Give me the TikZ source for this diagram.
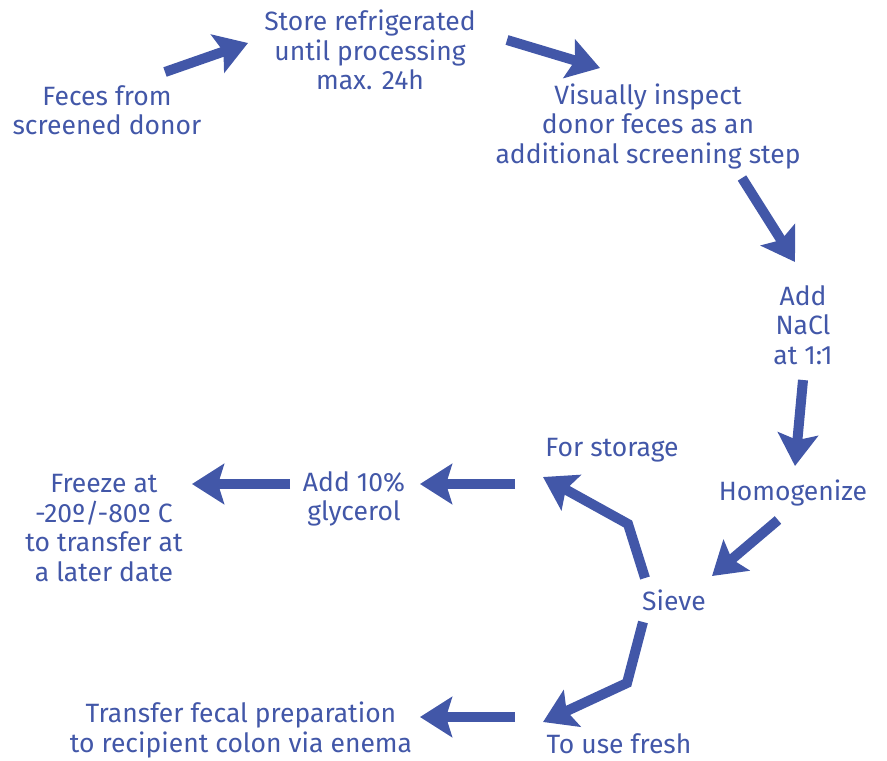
\documentclass[tikz,border=0pt]{standalone}
\usepackage{fontspec}
\setmainfont{Fira Sans}
\usetikzlibrary{arrows.meta}
\definecolor{flowblue}{RGB}{66,87,168}
\tikzset{
  step text/.style={inner sep=0pt, align=center, text=flowblue,
    font=\fontsize{26.5}{29.5}\selectfont},
  flow/.style={draw=flowblue, line width=10pt,
    -{Stealth[length=32pt,width=40pt,inset=6pt]}},
}
\begin{document}
\begin{tikzpicture}[x=1pt,y=-1pt]
      \useasboundingbox (0,0) rectangle (887,761);
      \draw
        (107,110) node[step text] (feces){Feces from\\screened donor}
        (370,50) node[step text] (store){Store refrigerated\\until processing\\max. 24h}
        (648,126) node[step text] (inspect){Visually inspect\\donor feces as an\\additional screening step}
        (803,325) node[step text] (nacl){Add\\NaCl\\at 1:1}
        (793,493) node[step text] (homog){Homogenize}
        (674,600) node[step text] (sieve){Sieve}
        (612,450) node[step text] (storage){For storage}
        (354,499) node[step text] (glycerol){Add 10\%\\glycerol}
        (104,528) node[step text] (freeze){Freeze at\\-20º/-80º C\\to transfer at\\a later date}
        (241,730) node[step text] (transfer){Transfer fecal preparation\\to recipient colon via enema}
        (619,744) node[step text] (fresh){To use fresh};
      \begin{scope}[flow]
        \draw ([shift={(58,-38)}]feces.center) -- ([shift={(-122,-7)}]store.center);
        \draw ([shift={(137,-10)}]store.center) -- ([shift={(-48,-58)}]inspect.center);
        \draw ([shift={(94,52)}]inspect.center) -- ([shift={(-8,-63)}]nacl.center);
        \draw ([shift={(0,55)}]nacl.center) -- ([shift={(2,-27)}]homog.center);
        \draw ([shift={(-15,27)}]homog.center) -- ([shift={(38,-24)}]sieve.center);
        \draw ([shift={(-29,-22)}]sieve.center) -- ([shift={(-46,-76)}]sieve.center)
          -- ([shift={(-69,27)}]storage.center);
        \draw ([shift={(-97,34)}]storage.center) -- ([shift={(66,-15)}]glycerol.center);
        \draw ([shift={(-64,-15)}]glycerol.center) -- ([shift={(88,-44)}]freeze.center);
        \draw ([shift={(-31,22)}]sieve.center) -- ([shift={(-47,83)}]sieve.center)
          -- ([shift={(-76,-22)}]fresh.center);
        \draw ([shift={(-104,-27)}]fresh.center) -- ([shift={(179,-13)}]transfer.center);
      \end{scope}
    \end{tikzpicture}
\end{document}
